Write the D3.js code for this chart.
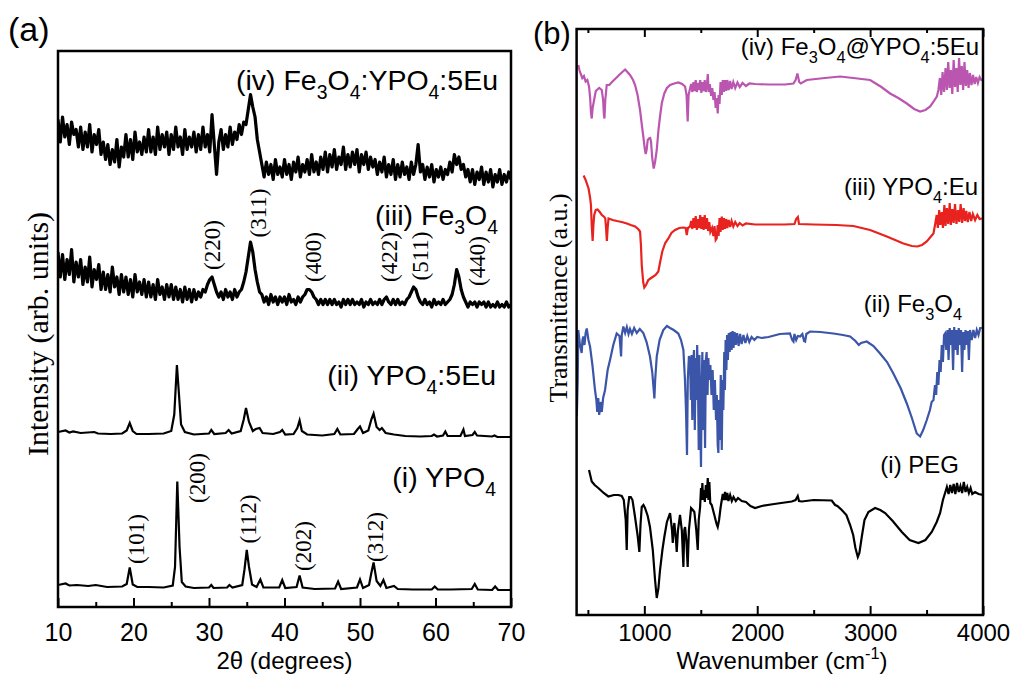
<!DOCTYPE html>
<html>
<head>
<meta charset="utf-8">
<script src="https://cdn.jsdelivr.net/npm/d3@7"></script>
<style>
  body { margin: 0; background: #fff; }
  text { font-family: "Liberation Sans", Arial, sans-serif; fill: #000; }
  .serif { font-family: "Liberation Serif", "Times New Roman", serif; }
</style>
</head>
<body>
<svg id="chart" width="1012" height="674"></svg>
<script>
// ---------- (a) XRD data, intensity in arbitrary stacked units ----------
const scanAngles = d3.range(10, 70.0001, 0.3);   // 2theta scan grid for the noisy patterns

const xrdFe3O4YPO4 = [
  97.5, 93.0, 98.0, 94.0, 96.5, 92.5, 97.0, 94.5, 95.5, 92.0,
  96.0, 91.5, 95.0, 92.0, 96.5, 91.0, 94.5, 92.5, 95.5, 90.5,
  93.0, 89.5, 92.5, 88.5, 91.5, 89.0, 93.5, 88.0, 92.0, 90.0,
  94.5, 90.0, 93.5, 89.5, 95.0, 91.0, 93.0, 90.5, 94.0, 91.0,
  95.5, 91.0, 94.0, 90.5, 96.0, 91.5, 94.5, 92.0, 95.0, 90.5,
  94.5, 91.5, 96.0, 92.0, 94.0, 90.5, 95.5, 91.5, 94.0, 92.0,
  95.0, 91.0, 94.5, 91.5, 96.0, 92.0, 94.5, 91.0, 98.5, 92.5,
  86.5, 93.0, 95.5, 91.5, 94.5, 92.0, 96.0, 92.5, 95.0, 93.5,
  96.5, 94.5, 97.0, 96.5, 99.5, 102.5, 100.0, 98.0, 93.5, 91.0,
  88.5, 86.0, 89.0, 86.5, 88.5, 85.5, 89.5, 86.5, 88.0, 86.0,
  89.5, 86.5, 88.5, 85.5, 89.0, 87.0, 90.0, 86.0, 88.5, 87.0,
  89.5, 86.5, 90.5, 87.0, 89.0, 86.5, 90.0, 87.5, 91.0, 87.0,
  90.5, 88.0, 91.5, 87.5, 90.0, 88.5, 92.0, 87.5, 90.5, 88.0,
  91.0, 88.5, 91.5, 87.0, 90.5, 88.5, 91.0, 87.5, 90.0, 88.0,
  89.5, 86.5, 89.0, 87.0, 90.0, 86.0, 88.5, 86.5, 89.5, 85.5,
  88.5, 86.0, 89.0, 86.5, 88.0, 85.5, 89.0, 86.5, 88.5, 92.5,
  87.0, 88.5, 85.5, 88.0, 86.0, 88.5, 85.0, 87.5, 86.0, 88.0,
  85.5, 87.5, 86.5, 89.0, 87.0, 90.5, 88.5, 90.0, 87.5, 88.5,
  86.0, 87.5, 85.0, 87.5, 84.5, 87.0, 85.5, 88.0, 84.5, 87.0,
  85.0, 87.5, 84.0, 86.5, 85.0, 87.5, 84.5, 86.5, 85.0, 87.0, 85.5
];

const xrdFe3O4 = [
  71.0, 66.0, 70.5, 65.5, 69.5, 66.5, 71.5, 65.0, 69.0, 66.0,
  69.5, 64.5, 68.0, 65.0, 70.0, 64.0, 67.5, 65.5, 68.5, 63.5,
  67.0, 63.5, 66.5, 63.0, 68.0, 64.0, 66.0, 62.5, 66.5, 63.0,
  66.0, 62.5, 65.5, 62.0, 66.5, 63.0, 65.0, 62.5, 65.5, 62.0,
  65.0, 62.0, 64.5, 61.5, 65.5, 62.5, 64.0, 61.5, 64.5, 62.0,
  64.5, 61.5, 64.0, 61.5, 63.5, 61.0, 64.0, 61.5, 63.5, 61.0,
  63.5, 61.5, 63.0, 62.0, 63.5, 63.0, 64.5, 65.5, 66.0, 64.5,
  63.0, 62.0, 63.0, 61.5, 63.5, 62.0, 63.0, 61.5, 63.5, 62.0,
  63.0, 63.5, 65.0, 67.0, 70.0, 73.0, 71.0, 67.5, 65.0, 63.0,
  62.5, 61.0, 62.0, 60.5, 62.5, 61.0, 62.0, 60.5, 62.0, 61.0,
  62.0, 60.5, 62.5, 61.0, 61.5, 60.5, 62.0, 61.0, 62.0, 62.5,
  63.5, 63.5, 63.0, 62.0, 61.5, 60.5, 61.5, 60.5, 61.5, 60.5,
  61.5, 60.5, 61.5, 60.5, 61.0, 60.0, 61.5, 60.5, 61.5, 60.5,
  61.5, 60.5, 61.0, 60.5, 61.5, 60.0, 61.0, 60.5, 61.5, 60.5,
  61.0, 60.5, 61.5, 60.5, 61.5, 62.0, 61.0, 60.5, 61.5, 60.5,
  61.5, 60.5, 61.0, 60.5, 61.5, 62.0, 63.0, 64.0, 63.5, 62.0,
  61.0, 60.5, 61.5, 60.5, 61.0, 60.0, 61.5, 60.5, 61.0, 60.5,
  61.5, 60.5, 61.0, 61.5, 62.5, 64.5, 67.5, 66.0, 63.5, 62.0,
  61.0, 60.0, 61.0, 60.5, 61.0, 60.0, 61.0, 60.5, 61.0, 60.0,
  61.0, 60.0, 60.5, 60.0, 61.0, 60.0, 60.5, 60.0, 61.0, 60.0, 60.5
];

const xrdYPO4Eu = [
  [10, 35.0], [11, 35.3], [11.5, 34.9], [12, 35.1], [13, 34.8], [14.8, 35.0], [15.3, 34.7],
  [17, 34.6], [18.5, 34.7], [19.1, 35.3], [19.5, 36.8], [19.9, 35.2], [20.4, 34.6], [22, 34.6],
  [24, 34.7], [25.0, 35.2], [25.4, 38.5], [25.75, 48.4], [26.0, 43.0], [26.3, 36.5], [26.8, 35.0],
  [28, 34.5], [30, 34.7], [30.3, 35.4], [30.7, 34.6], [32.2, 34.8], [32.6, 35.4], [33, 34.7],
  [34.2, 35.2], [34.6, 37.5], [34.9, 39.8], [35.3, 37.0], [35.8, 35.2], [36.2, 35.6], [36.7, 35.8],
  [37.1, 34.8], [38.5, 34.6], [39.4, 35.0], [39.7, 35.4], [40.1, 34.5], [41.2, 34.6], [41.7, 35.8],
  [42.0, 37.3], [42.3, 35.2], [43, 34.5], [45, 34.3], [46.6, 34.6], [47.0, 35.6], [47.4, 34.5],
  [49.2, 34.6], [49.7, 35.6], [50.0, 36.1], [50.4, 34.8], [51.1, 35.3], [51.5, 37.5], [51.8, 38.7],
  [52.2, 36.0], [52.6, 35.4], [52.9, 35.8], [53.4, 34.8], [54.5, 34.5], [56, 34.2], [58, 34.1],
  [59.5, 34.2], [59.8, 34.5], [60.2, 34.1], [61.0, 34.3], [61.3, 35.1], [61.6, 34.2], [63.3, 34.2],
  [63.7, 35.5], [63.9, 34.2], [64.9, 34.4], [65.2, 35.0], [65.5, 34.3], [67.5, 34.1], [67.8, 34.3],
  [68.2, 34.0], [70, 34.0]
];

const xrdYPO4 = [
  [10, 4.4], [11, 4.7], [11.5, 4.3], [12.5, 4.4], [14, 4.2], [15, 4.4], [16.5, 4.0], [18.5, 4.1],
  [19.1, 4.6], [19.5, 7.9], [19.9, 4.5], [20.5, 4.0], [22, 4.0], [24, 3.9], [25.2, 4.3], [25.5, 8.0],
  [25.8, 25.1], [26.1, 12.0], [26.4, 5.0], [26.9, 4.1], [28, 3.8], [30, 3.9], [30.3, 4.4], [30.6, 3.8],
  [32.4, 3.9], [32.7, 4.4], [33.1, 3.9], [34.4, 4.4], [34.7, 7.5], [35.0, 11.4], [35.3, 8.0], [35.7, 4.5],
  [36.3, 4.0], [36.8, 5.5], [37.2, 3.9], [39.3, 3.9], [39.7, 5.4], [40.1, 3.8], [41.6, 4.0], [42.0, 6.3],
  [42.4, 3.9], [44, 3.6], [46.7, 3.7], [47.1, 5.1], [47.5, 3.6], [49.6, 3.9], [50.0, 5.5], [50.4, 3.8],
  [51.2, 4.4], [51.5, 6.8], [51.8, 8.9], [52.2, 5.2], [52.7, 4.2], [53.1, 5.4], [53.5, 3.8], [54.5, 4.2],
  [55, 3.6], [57, 3.5], [59.5, 3.5], [59.9, 4.1], [60.3, 3.5], [62, 3.5], [64.8, 3.6], [65.2, 4.6],
  [65.6, 3.5], [67.5, 3.4], [67.9, 4.1], [68.3, 3.4], [70, 3.4]
];

// Miller indices: [label, 2theta, intensity level of label centre]
const peaksFe3O4 = [["(220)", 30.4, 72.4], ["(311)", 36.5, 78.8], ["(400)", 43.8, 70],
                    ["(422)", 53.8, 70], ["(511)", 57.9, 70.2], ["(440)", 65.5, 69.2]];
const peaksYPO4 = [["(101)", 20.3, 13.6], ["(200)", 28.4, 25.8], ["(112)", 35.2, 17.6],
                   ["(202)", 42.5, 12.2], ["(312)", 52.0, 14]];

const xrdTicks = [10, 20, 30, 40, 50, 60, 70];
const xrdMinorTicks = [15, 25, 35, 45, 55, 65];

// ---------- (b) FTIR data: [wavenumber, transmittance (stacked a.u.)] ----------
const ftirCoreShell = [
  [415, 110.0], [425, 109.0], [435, 108.3], [450, 107.4], [465, 107.8], [480, 106.7], [495, 107.0],
  [510, 105.7], [520, 103.4], [527, 100.6], [534, 99.3], [542, 101.4], [555, 103.0], [570, 104.8],
  [584, 105.1], [600, 105.4], [623, 105.0], [635, 103.0], [642, 100.0], [647, 99.3], [654, 103.0],
  [667, 106.0], [690, 106.0], [718, 106.7], [750, 107.4], [777, 108.0], [805, 108.6], [830, 109.1],
  [850, 108.6], [873, 108.0], [900, 107.0], [918, 106.0], [940, 104.0], [962, 101.0], [978, 98.0],
  [991, 95.7], [1003, 93.4], [1012, 92.2], [1020, 93.0], [1030, 95.0], [1042, 95.3], [1052, 95.4],
  [1059, 94.7], [1070, 91.4], [1083, 89.3], [1095, 90.6], [1110, 93.0], [1125, 97.0], [1139, 99.7],
  [1155, 102.4], [1177, 104.3], [1200, 105.4], [1228, 106.0], [1265, 106.3], [1301, 106.5],
  [1335, 106.2], [1361, 105.7], [1374, 104.0], [1384, 98.7], [1392, 104.0], [1405, 105.3],
  [1415, 106.2], [1425, 104.6], [1435, 106.6], [1445, 104.8], [1455, 107.0], [1465, 104.6],
  [1475, 106.4], [1485, 105.0], [1495, 107.0], [1505, 104.4], [1515, 106.6], [1525, 104.8],
  [1535, 107.0], [1545, 104.6], [1555, 106.2], [1562, 108.2], [1570, 104.6], [1580, 106.2],
  [1592, 103.8], [1602, 105.4], [1612, 103.0], [1622, 104.6], [1632, 101.4], [1641, 103.4],
  [1650, 100.3], [1658, 104.0], [1666, 102.2], [1675, 106.6], [1686, 104.0], [1695, 107.0],
  [1705, 104.6], [1715, 107.0], [1725, 104.8], [1735, 107.0], [1747, 105.0], [1760, 106.8],
  [1773, 105.2], [1788, 106.6], [1805, 105.4], [1825, 106.5], [1845, 105.6], [1870, 106.4],
  [1900, 105.8], [1930, 106.3], [1981, 106.2], [2100, 106.1], [2246, 106.1], [2321, 106.3],
  [2340, 107.0], [2356, 108.3], [2372, 106.6], [2386, 106.3], [2439, 107.0], [2600, 107.4],
  [2734, 107.7], [2850, 107.4], [3000, 107.0], [3100, 105.6], [3177, 104.3], [3250, 103.4],
  [3325, 102.3], [3390, 101.2], [3443, 100.7], [3490, 101.0], [3532, 101.7], [3560, 102.6],
  [3591, 103.7], [3605, 105.0], [3618, 107.4], [3630, 104.0], [3642, 108.6], [3655, 104.6],
  [3668, 109.4], [3680, 105.0], [3692, 110.6], [3704, 105.4], [3716, 109.0], [3728, 104.2],
  [3740, 111.0], [3752, 105.6], [3764, 109.4], [3776, 104.6], [3788, 111.4], [3800, 106.0],
  [3812, 109.8], [3824, 105.0], [3836, 110.6], [3848, 105.8], [3860, 109.0], [3872, 105.4],
  [3884, 108.4], [3898, 106.0], [3912, 108.0], [3926, 106.2], [3940, 107.6], [3955, 106.4],
  [3970, 107.6], [3985, 107.0], [3998, 107.0]
];

const ftirYPO4Eu = [
  [462, 87.9], [480, 87.0], [506, 85.3], [520, 83.4], [527, 82.0], [534, 78.0], [542, 74.8],
  [549, 78.0], [556, 80.0], [570, 81.0], [586, 81.1], [605, 80.6], [624, 80.0], [645, 79.6],
  [654, 79.3], [661, 77.4], [668, 74.8], [675, 77.4], [683, 79.3], [720, 79.0], [757, 78.8],
  [800, 78.6], [845, 78.3], [880, 78.0], [918, 77.7], [945, 77.2], [962, 76.7], [970, 74.0],
  [977, 70.0], [990, 66.6], [1000, 65.5], [1015, 66.0], [1035, 67.0], [1060, 67.4], [1080, 67.7],
  [1100, 68.0], [1124, 68.7], [1140, 70.6], [1159, 72.7], [1185, 74.4], [1213, 75.3], [1240, 76.4],
  [1272, 77.0], [1310, 77.4], [1346, 77.5], [1366, 77.4], [1376, 76.0], [1386, 77.4], [1405, 77.7],
  [1415, 78.8], [1425, 77.2], [1435, 79.4], [1445, 77.4], [1455, 79.8], [1465, 77.0], [1475, 79.2],
  [1485, 77.4], [1495, 80.0], [1505, 77.2], [1515, 79.6], [1525, 77.0], [1535, 80.0], [1545, 77.2],
  [1555, 79.4], [1565, 76.8], [1575, 78.6], [1585, 76.6], [1600, 77.4], [1612, 75.8], [1622, 77.8],
  [1632, 75.0], [1641, 75.3], [1650, 78.0], [1658, 75.8], [1666, 79.4], [1675, 76.6], [1686, 79.7],
  [1695, 77.0], [1705, 79.4], [1715, 77.2], [1725, 79.2], [1735, 77.4], [1747, 79.0], [1760, 77.6],
  [1773, 78.8], [1788, 77.7], [1805, 78.6], [1825, 77.8], [1845, 78.4], [1870, 77.9], [1900, 78.3],
  [1981, 78.1], [2100, 78.1], [2246, 78.1], [2330, 78.2], [2345, 79.2], [2360, 79.6], [2370, 78.2],
  [2500, 78.1], [2700, 78.0], [2852, 77.8], [3000, 77.0], [3148, 75.7], [3295, 74.3], [3370, 73.8],
  [3418, 73.7], [3460, 74.0], [3502, 74.7], [3561, 76.3], [3575, 78.0], [3590, 80.0], [3600, 77.4],
  [3612, 81.0], [3622, 78.0], [3635, 80.6], [3645, 77.4], [3658, 82.0], [3668, 77.8], [3680, 81.4],
  [3692, 78.2], [3705, 82.4], [3715, 78.0], [3728, 81.2], [3740, 78.4], [3752, 82.2], [3765, 78.2],
  [3778, 81.0], [3790, 78.6], [3802, 82.2], [3815, 78.4], [3828, 81.4], [3840, 78.8], [3852, 80.8],
  [3865, 78.6], [3880, 80.6], [3895, 78.8], [3910, 80.2], [3930, 79.0], [3950, 80.0], [3970, 79.2],
  [3990, 79.3]
];

const ftirFe3O4 = [
  [402, 39.8], [410, 47.0], [415, 57.0], [430, 54.0], [445, 52.4], [452, 55.0], [460, 55.7],
  [470, 54.0], [480, 56.4], [490, 57.3], [505, 55.0], [519, 53.7], [540, 50.0], [563, 45.0],
  [575, 43.0], [583, 40.6], [592, 43.4], [600, 40.0], [612, 42.6], [623, 40.6], [635, 43.4],
  [652, 45.0], [675, 49.0], [696, 51.0], [725, 54.0], [755, 56.3], [780, 55.8], [790, 53.0],
  [794, 51.7], [800, 56.0], [814, 57.7], [830, 56.4], [845, 57.6], [860, 56.2], [873, 57.2],
  [890, 56.2], [910, 57.4], [933, 56.4], [960, 57.2], [991, 56.4], [1020, 54.6], [1050, 51.7],
  [1070, 48.6], [1083, 45.0], [1089, 43.3], [1096, 47.0], [1110, 51.7], [1135, 55.0], [1168, 57.0],
  [1200, 57.8], [1228, 57.4], [1260, 57.0], [1301, 56.3], [1325, 55.0], [1346, 53.0], [1360, 47.0],
  [1369, 41.0], [1378, 32.0], [1385, 47.0], [1395, 51.8], [1405, 51.0], [1412, 43.0], [1418, 52.0],
  [1425, 39.0], [1432, 50.0], [1440, 53.0], [1447, 37.0], [1455, 51.4], [1462, 43.0], [1468, 54.0],
  [1475, 47.0], [1482, 33.0], [1488, 52.0], [1495, 39.0], [1502, 29.6], [1508, 45.0], [1514, 52.6],
  [1520, 37.0], [1527, 51.0], [1533, 43.0], [1538, 33.4], [1545, 51.0], [1552, 52.6], [1560, 44.0],
  [1567, 51.4], [1575, 47.0], [1585, 50.0], [1595, 44.0], [1605, 49.0], [1615, 41.0], [1625, 47.0],
  [1635, 39.0], [1642, 44.0], [1650, 34.0], [1656, 32.4], [1662, 43.0], [1670, 35.0], [1677, 48.0],
  [1686, 33.0], [1693, 47.0], [1700, 41.0], [1708, 52.6], [1714, 45.0], [1720, 55.0], [1727, 49.0],
  [1733, 56.0], [1740, 51.0], [1748, 56.4], [1756, 52.6], [1765, 56.6], [1773, 53.0], [1782, 56.8],
  [1790, 53.4], [1800, 56.6], [1810, 54.0], [1822, 56.4], [1835, 53.8], [1848, 56.2], [1862, 54.2],
  [1878, 56.0], [1895, 54.4], [1912, 55.8], [1930, 54.6], [1950, 55.6], [1975, 55.0], [2000, 55.6],
  [2040, 55.4], [2100, 55.6], [2200, 56.2], [2290, 56.3], [2310, 55.0], [2321, 54.7], [2330, 56.2],
  [2345, 55.0], [2360, 55.8], [2380, 55.7], [2400, 56.2], [2415, 54.8], [2424, 54.7], [2435, 56.2],
  [2468, 56.7], [2560, 56.6], [2675, 56.3], [2760, 56.0], [2823, 55.7], [2870, 54.8], [2900, 54.0],
  [2920, 54.4], [2970, 54.7], [3030, 53.8], [3088, 52.3], [3150, 50.6], [3206, 48.3], [3270, 45.4],
  [3325, 42.3], [3370, 39.4], [3413, 36.3], [3443, 35.7], [3470, 37.0], [3502, 39.0], [3530, 41.0],
  [3545, 42.6], [3561, 43.0], [3575, 46.0], [3585, 44.0], [3595, 48.6], [3605, 46.0], [3615, 51.0],
  [3625, 48.6], [3635, 54.0], [3645, 50.6], [3655, 56.0], [3664, 56.3], [3675, 53.0], [3685, 57.0],
  [3695, 51.0], [3705, 57.4], [3715, 54.0], [3725, 57.0], [3735, 49.0], [3745, 57.6], [3755, 53.0],
  [3765, 57.0], [3775, 52.0], [3785, 57.4], [3795, 54.0], [3805, 57.0], [3815, 48.6], [3825, 56.6],
  [3835, 53.0], [3845, 57.0], [3855, 54.0], [3865, 56.8], [3875, 51.0], [3885, 57.0], [3900, 55.0],
  [3915, 57.0], [3930, 55.4], [3945, 57.0], [3960, 56.0], [3975, 57.4], [3990, 57.4]
];

const ftirPEG = [
  [510, 29.0], [534, 26.7], [560, 26.0], [592, 25.4], [640, 24.4], [681, 23.7], [730, 24.0],
  [770, 24.0], [800, 23.8], [818, 23.0], [835, 19.0], [844, 13.0], [852, 21.0], [866, 23.6],
  [880, 23.6], [895, 23.0], [915, 20.0], [940, 16.0], [956, 12.6], [966, 18.0], [977, 21.6],
  [992, 22.0], [1006, 21.4], [1030, 19.8], [1050, 17.6], [1075, 13.0], [1095, 7.0], [1110, 3.4],
  [1125, 5.4], [1139, 9.0], [1160, 13.0], [1177, 15.6], [1200, 18.6], [1228, 20.4], [1245, 17.0],
  [1252, 14.4], [1260, 17.4], [1266, 18.4], [1280, 15.0], [1287, 12.6], [1298, 17.0], [1316, 20.0],
  [1332, 17.0], [1346, 9.6], [1354, 17.0], [1361, 17.6], [1372, 15.0], [1384, 9.6], [1395, 17.0],
  [1414, 21.4], [1430, 21.0], [1443, 20.6], [1460, 17.0], [1473, 13.0], [1482, 19.0], [1494, 21.6],
  [1502, 25.4], [1508, 23.0], [1514, 26.4], [1520, 23.0], [1528, 25.0], [1536, 22.6], [1545, 26.0],
  [1552, 23.4], [1562, 27.4], [1568, 23.0], [1576, 26.6], [1584, 22.4], [1597, 22.0], [1620, 20.0],
  [1640, 18.2], [1650, 17.6], [1662, 19.0], [1675, 21.4], [1686, 23.0], [1695, 24.2], [1705, 23.0],
  [1715, 24.6], [1725, 23.0], [1735, 24.4], [1745, 22.8], [1760, 24.0], [1775, 22.8], [1790, 23.6],
  [1810, 22.8], [1830, 23.4], [1863, 22.8], [1900, 22.6], [1940, 21.8], [1981, 21.4], [2040, 21.8],
  [2150, 22.2], [2306, 22.7], [2340, 23.0], [2359, 23.8], [2370, 22.8], [2395, 22.7], [2500, 23.0],
  [2660, 22.9], [2690, 22.0], [2710, 21.8], [2749, 21.0], [2790, 20.0], [2823, 18.0], [2850, 16.0],
  [2870, 13.4], [2891, 11.6], [2905, 12.4], [2926, 15.6], [2950, 19.0], [2985, 20.6], [3044, 21.4],
  [3090, 21.0], [3133, 20.4], [3200, 18.8], [3281, 16.6], [3350, 15.0], [3428, 14.4], [3490, 15.0],
  [3546, 16.6], [3590, 18.6], [3620, 20.4], [3645, 23.0], [3664, 24.4], [3680, 25.6], [3695, 24.2],
  [3710, 26.0], [3725, 24.4], [3740, 26.2], [3755, 24.2], [3770, 26.4], [3785, 24.6], [3800, 25.8],
  [3815, 24.4], [3830, 26.6], [3845, 24.6], [3860, 25.6], [3875, 24.4], [3890, 25.4], [3905, 24.2],
  [3930, 24.6], [3960, 24.2], [4000, 24.0]
];

const ftirTicks = [1000, 2000, 3000, 4000];
const ftirMinorTicks = [500, 1500, 2500, 3500];

// ---------- drawing ----------
const svg = d3.select("#chart");

// subscript / superscript aware label
function richText(g, x, y, parts, size, anchor, cls) {
    const t = g.append("text")
        .attr("x", x).attr("y", y)
        .attr("text-anchor", anchor || "end")
        .style("font-size", size + "px");
    if (cls) t.attr("class", cls);
    let shift = 0;
    parts.forEach(p => {
        const kind = p[1];
        const target = kind === "sub" ? size * 0.32 : kind === "sup" ? -size * 0.38 : 0;
        const span = t.append("tspan").attr("dy", target - shift).text(p[0]);
        if (kind) span.style("font-size", (size * 0.68) + "px");
        shift = target;
    });
    return t;
}

function frameAxes(g, x, y, major, minor, labelSize, pad, withTop) {
    const [x0, x1] = x.range();
    const [y0, y1] = y.range();
    const bottom = g.append("g").attr("transform", `translate(0,${y0})`)
        .call(d3.axisBottom(x).tickValues(major).tickSize(-9).tickPadding(pad).tickFormat(d3.format("d")));
    bottom.select(".domain").remove();
    bottom.selectAll("line").attr("stroke-width", 2);
    bottom.selectAll("text").style("font-size", labelSize + "px")
        .style("font-family", "'Liberation Sans', Arial, sans-serif");
    const bMinor = g.append("g").attr("transform", `translate(0,${y0})`)
        .call(d3.axisBottom(x).tickValues(minor).tickSize(-5).tickFormat(""));
    bMinor.select(".domain").remove();
    bMinor.selectAll("line").attr("stroke-width", 2);
    if (withTop) {
        [[major, 8], [minor, 4]].forEach(([vals, len]) => {
            const top = g.append("g").attr("transform", `translate(0,${y1})`)
                .call(d3.axisTop(x).tickValues(vals).tickSize(-len).tickFormat(""));
            top.select(".domain").remove();
            top.selectAll("line").attr("stroke-width", 2);
        });
    }
    g.append("rect")
        .attr("x", x0).attr("y", y1)
        .attr("width", x1 - x0).attr("height", y0 - y1)
        .attr("fill", "none").attr("stroke", "#000").attr("stroke-width", 2.5);
}

// ---- panel (a) ----
const xA = d3.scaleLinear().domain([10, 70]).range([58, 511]);
const yA = d3.scaleLinear().domain([0, 111.2]).range([607, 51]);
const gA = svg.append("g");

svg.append("clipPath").attr("id", "clipA").append("rect")
    .attr("x", 58).attr("y", 51).attr("width", 453).attr("height", 556);

const lineGrid = d3.line().x((d, i) => xA(scanAngles[i])).y(d => yA(d));
const linePairs = d3.line().x(d => xA(d[0])).y(d => yA(d[1]));

const plotA = gA.append("g").attr("clip-path", "url(#clipA)");
[xrdFe3O4YPO4, xrdFe3O4].forEach(series => {
    plotA.append("path").datum(series).attr("d", lineGrid)
        .attr("fill", "none").attr("stroke", "#000").attr("stroke-width", 3.2)
        .attr("stroke-linejoin", "round");
});
[xrdYPO4Eu, xrdYPO4].forEach(series => {
    plotA.append("path").datum(series).attr("d", linePairs)
        .attr("fill", "none").attr("stroke", "#000").attr("stroke-width", 2.2);
});

frameAxes(gA, xA, yA, xrdTicks, xrdMinorTicks, 25, 16, false);

peaksFe3O4.concat(peaksYPO4).forEach(p => {
    gA.append("text").attr("class", "serif")
        .attr("transform", `translate(${xA(p[1])},${yA(p[2])}) rotate(-90)`)
        .attr("text-anchor", "middle").attr("dy", "0.35em")
        .style("font-size", "23px").text(p[0]);
});

richText(gA, 498, 90, [["(iv) Fe"], ["3", "sub"], ["O"], ["4", "sub"], [":YPO"], ["4", "sub"], [":5Eu"]], 28.5);
richText(gA, 498, 225, [["(iii) Fe"], ["3", "sub"], ["O"], ["4", "sub"]], 28.5);
richText(gA, 496, 385, [["(ii) YPO"], ["4", "sub"], [":5Eu"]], 28.5);
richText(gA, 496, 487, [["(i) YPO"], ["4", "sub"]], 28.5);

gA.append("text").attr("x", 8).attr("y", 41).style("font-size", "34px").text("(a)");
richText(gA, 284.5, 668.5, [["2θ (degrees)"]], 24, "middle");
gA.append("text").attr("class", "serif")
    .attr("transform", "translate(37,334) rotate(-90)")
    .attr("text-anchor", "middle").attr("dy", "0.35em")
    .style("font-size", "30px").text("Intensity (arb. units)");

// ---- panel (b) ----
const xB = d3.scaleLinear().domain([400, 4000]).range([576.6, 983]);
const yB = d3.scaleLinear().domain([0, 117.2]).range([615, 29]);
const gB = svg.append("g");

svg.append("clipPath").attr("id", "clipB").append("rect")
    .attr("x", 576.6).attr("y", 29).attr("width", 406.4).attr("height", 586);

const lineB = d3.line().x(d => xB(d[0])).y(d => yB(d[1]));
const plotB = gB.append("g").attr("clip-path", "url(#clipB)");
[[ftirCoreShell, "#bb56b0"], [ftirYPO4Eu, "#e8231f"], [ftirFe3O4, "#3b55a8"], [ftirPEG, "#000"]]
    .forEach(([series, color]) => {
        plotB.append("path").datum(series).attr("d", lineB)
            .attr("fill", "none").attr("stroke", color).attr("stroke-width", 2.2);
    });

frameAxes(gB, xB, yB, ftirTicks, ftirMinorTicks, 24, 9, true);

richText(gB, 979, 55, [["(iv) Fe"], ["3", "sub"], ["O"], ["4", "sub"], ["@YPO"], ["4", "sub"], [":5Eu"]], 24);
richText(gB, 978, 195, [["(iii) YPO"], ["4", "sub"], [":Eu"]], 24);
richText(gB, 962, 312, [["(ii) Fe"], ["3", "sub"], ["O"], ["4", "sub"]], 24);
richText(gB, 959, 473, [["(i) PEG"]], 24);

gB.append("text").attr("x", 533).attr("y", 44).style("font-size", "31px").text("(b)");
richText(gB, 782, 668.5, [["Wavenumber (cm"], ["-1", "sup"], [")"]], 24, "middle");
gB.append("text").attr("class", "serif")
    .attr("transform", "translate(558,298) rotate(-90)")
    .attr("text-anchor", "middle").attr("dy", "0.35em")
    .style("font-size", "26px").text("Transmittance (a.u.)");
</script>
</body>
</html>
